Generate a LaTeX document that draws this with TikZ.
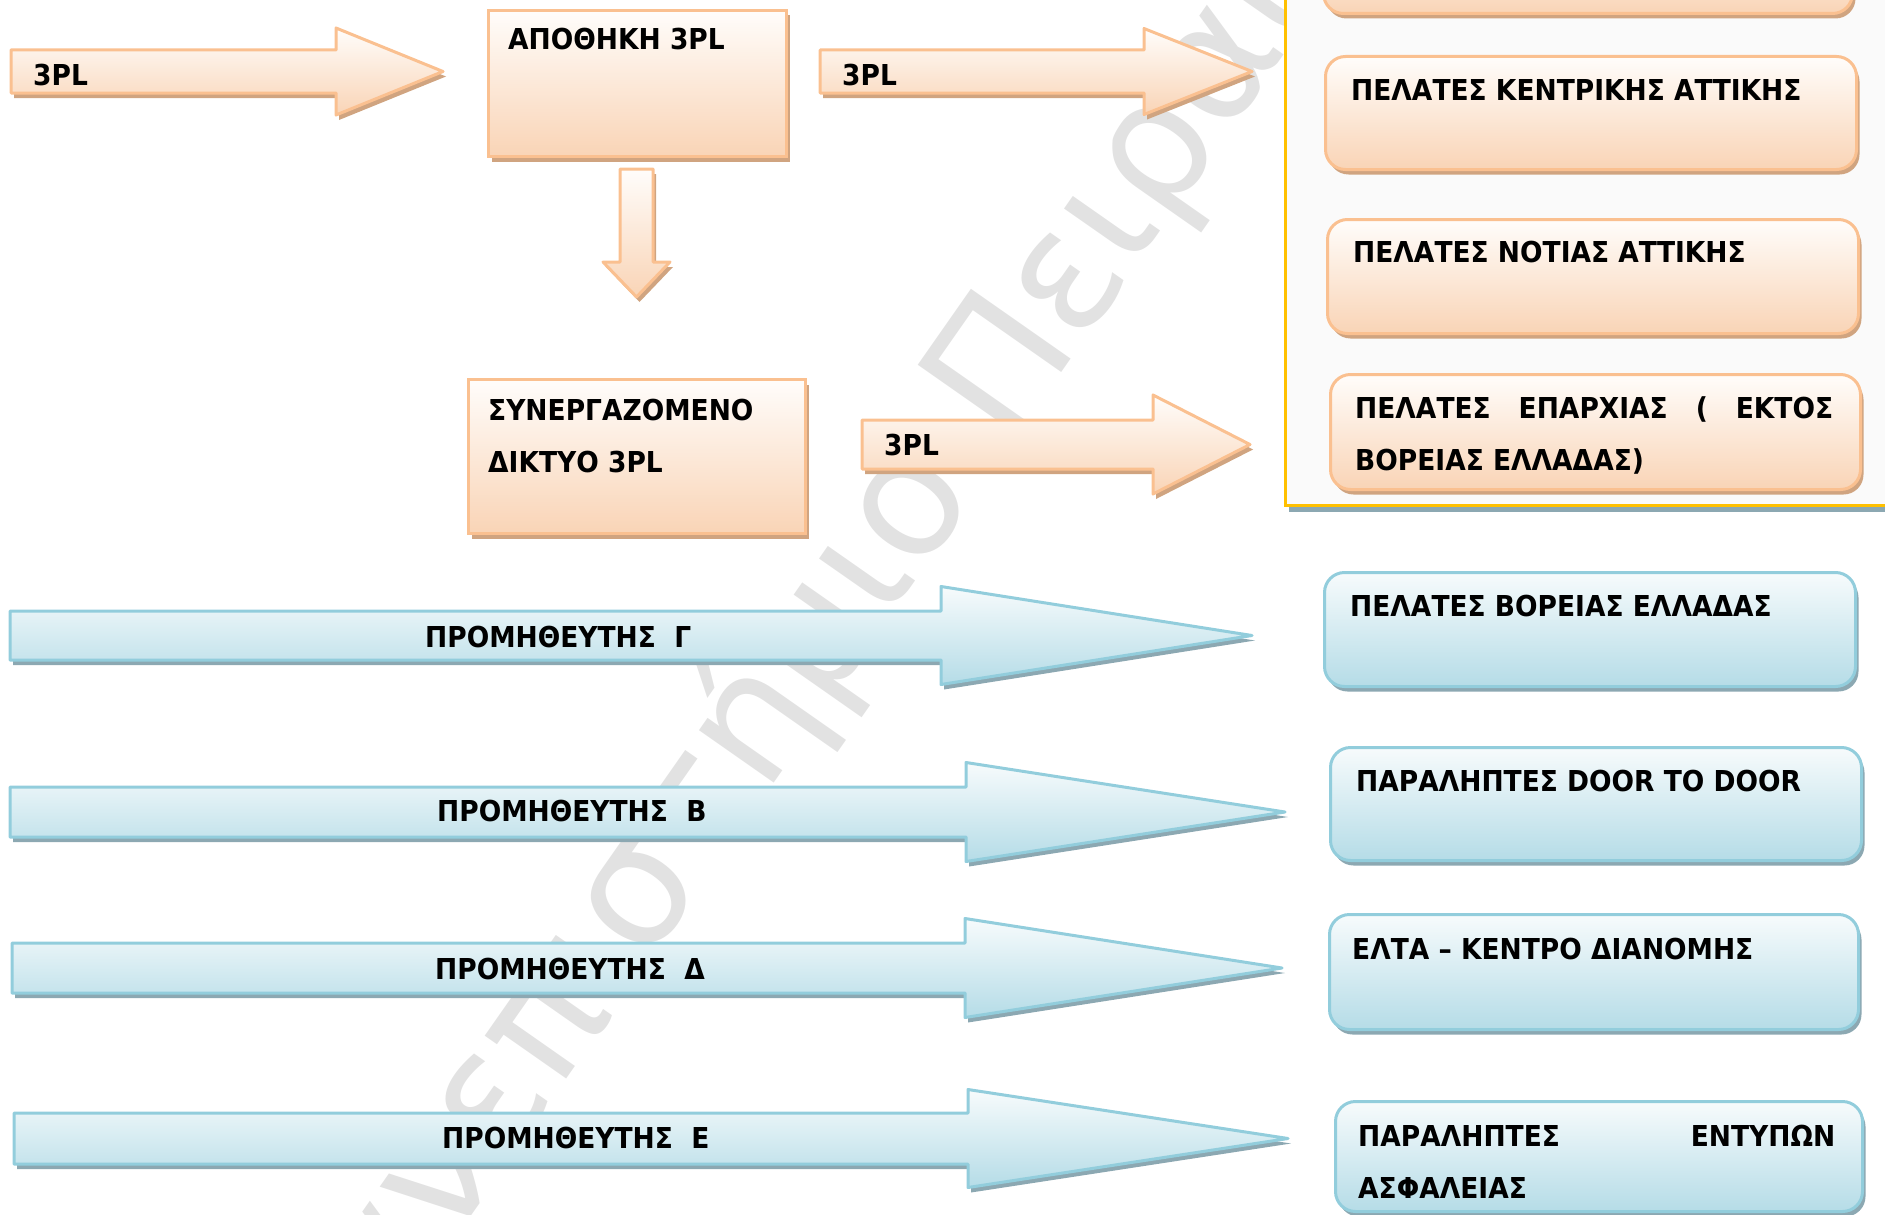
\documentclass[tikz,border=0pt]{standalone}
\usepackage{fontspec}
\setmainfont{DejaVu Sans}[FakeStretch=0.92]
\newfontfamily\wmfont{DejaVu Sans}
\usetikzlibrary{shadows,positioning}

\definecolor{peachline}{RGB}{250,192,144}
\definecolor{peachlo}{RGB}{249,212,182}
\definecolor{peachhi}{RGB}{255,253,251}
\definecolor{peachshd}{RGB}{208,164,128}
\definecolor{skyline}{RGB}{146,205,220}
\definecolor{skylo}{RGB}{181,220,231}
\definecolor{skyhi}{RGB}{247,251,252}
\definecolor{skyshd}{RGB}{140,168,178}
\definecolor{goldline}{RGB}{255,192,0}
\definecolor{panelfill}{RGB}{250,250,250}
\definecolor{wmgray}{RGB}{226,226,226}

% block arrow: style, tail x, head x, tip x, mid y, half body, half head
\newcommand{\flowarrow}[7]{%
  \draw[#1] (#2,#5-#6) -- (#3,#5-#6) -- (#3,#5-#7) -- (#4,#5)
    -- (#3,#5+#7) -- (#3,#5+#6) -- (#2,#5+#6) -- cycle;}

\begin{document}
\begin{tikzpicture}[x=1pt, y=-1pt,
  lbl/.style={font=\fontsize{28.8}{52}\selectfont\bfseries, inner sep=0pt, anchor=base west, align=left},
  obox/.style={draw=peachline, line width=3pt, top color=peachhi, bottom color=peachlo,
    general shadow={fill=peachshd, shadow xshift=3pt, shadow yshift=-5pt}},
  oround/.style={obox, rounded corners=20pt},
  bround/.style={draw=skyline, line width=3pt, top color=skyhi, bottom color=skylo,
    rounded corners=20pt, general shadow={fill=skyshd, shadow xshift=3pt, shadow yshift=-5pt}},
  oarrow/.style={obox, line join=round},
  barrow/.style={draw=skyline, line width=3pt, top color=skyhi, bottom color=skylo, line join=round,
    general shadow={fill=skyshd, shadow xshift=3pt, shadow yshift=-5pt}},
  panel/.style={draw=goldline, line width=3pt, fill=panelfill,
    general shadow={fill=skyshd, shadow xshift=3pt, shadow yshift=-6pt}}]
  \useasboundingbox (0,0) rectangle (1885,1215);
  \clip (0,0) rectangle (1885,1215);

  % watermark
  \node[font=\wmfont\fontsize{167}{167}\selectfont, text=wmgray, inner sep=0pt,
    anchor=base west, rotate=55] (wmark) at (1008,449) {\llap{Πανεπιστήμιο }Πειραιά};

  % customer panel
  \node[panel, anchor=north west, minimum width=640pt, minimum height=540pt] (zone) at (1284,-36) {};

  % 3PL chain
  \flowarrow{oarrow}{11}{336}{443}{71.5}{21.5}{43.5}
  \node[lbl] (inT) at (33,85) {3PL};
  \node[obox, anchor=north west, minimum width=298pt, minimum height=146pt] (apothiki) at (487,9) {};
  \node[lbl] (apothikiT) at (508,50) {ΑΠΟΘΗΚΗ 3PL};
  \draw[oarrow] (620,169) -- (653,169) -- (653,262) -- (670,262) -- (636.5,297)
    -- (603,262) -- (620,262) -- cycle;
  \flowarrow{oarrow}{820}{1144}{1252}{71.5}{21.5}{43}
  \node[lbl] (outT) at (842,85) {3PL};
  \node[obox, anchor=north west, minimum width=337pt, minimum height=154pt] (diktyo) at (467,378) {};
  \node[lbl] (diktyoT) at (488,472) {ΣΥΝΕΡΓΑΖΟΜΕΝΟ\\ΔΙΚΤΥΟ 3PL};
  \flowarrow{oarrow}{862}{1153}{1250}{444.5}{24.5}{49.5}
  \node[lbl] (netT) at (884,455) {3PL};

  % customers inside the panel
  \node[oround, anchor=north west, minimum width=529pt, minimum height=92pt] (top) at (1322,-80) {};
  \node[oround, anchor=north west, minimum width=531pt, minimum height=113pt] (kentro) at (1324,55) {};
  \node[lbl] (kentroT) at (1351,100) {ΠΕΛΑΤΕΣ ΚΕΝΤΡΙΚΗΣ ΑΤΤΙΚΗΣ};
  \node[oround, anchor=north west, minimum width=531pt, minimum height=114pt] (notia) at (1326,218) {};
  \node[lbl] (notiaT) at (1353,262) {ΠΕΛΑΤΕΣ ΝΟΤΙΑΣ ΑΤΤΙΚΗΣ};
  \node[oround, anchor=north west, minimum width=530pt, minimum height=115pt] (eparxia) at (1329,373) {};
  \node[lbl] (eparxiaT) at (1355,470) {\hbox to 478pt{ΠΕΛΑΤΕΣ\hfill ΕΠΑΡΧΙΑΣ\hfill (\hfill ΕΚΤΟΣ}\\ΒΟΡΕΙΑΣ ΕΛΛΑΔΑΣ)};

  % suppliers
  \flowarrow{barrow}{10}{941}{1252}{635.5}{24.5}{49}
  \node[lbl] (supG) at (425,647) {ΠΡΟΜΗΘΕΥΤΗΣ\ \ Γ};
  \flowarrow{barrow}{10}{966}{1285}{812}{25}{49.5}
  \node[lbl] (supB) at (437,821) {ΠΡΟΜΗΘΕΥΤΗΣ\ \ Β};
  \flowarrow{barrow}{12}{965}{1282}{968}{25}{49.5}
  \node[lbl] (supD) at (435,979) {ΠΡΟΜΗΘΕΥΤΗΣ\ \ Δ};
  \flowarrow{barrow}{14}{968}{1288}{1138.5}{25.5}{49}
  \node[lbl] (supE) at (442,1148) {ΠΡΟΜΗΘΕΥΤΗΣ\ \ Ε};

  % receivers
  \node[bround, anchor=north west, minimum width=531pt, minimum height=114pt] (voreia) at (1323,571) {};
  \node[lbl] (voreiaT) at (1350,616) {ΠΕΛΑΤΕΣ ΒΟΡΕΙΑΣ ΕΛΛΑΔΑΣ};
  \node[bround, anchor=north west, minimum width=531pt, minimum height=113pt] (door) at (1329,746) {};
  \node[lbl] (doorT) at (1356,791) {ΠΑΡΑΛΗΠΤΕΣ DOOR TO DOOR};
  \node[bround, anchor=north west, minimum width=529pt, minimum height=115pt] (elta) at (1328,913) {};
  \node[lbl] (eltaT) at (1352,959) {ΕΛΤΑ – ΚΕΝΤΡΟ ΔΙΑΝΟΜΗΣ};
  \node[bround, anchor=north west, minimum width=527pt, minimum height=110pt] (entypa) at (1334,1100) {};
  \node[lbl] (entypaT) at (1358,1198) {\hbox to 477pt{ΠΑΡΑΛΗΠΤΕΣ\hfill ΕΝΤΥΠΩΝ}\\ΑΣΦΑΛΕΙΑΣ};
\end{tikzpicture}
\end{document}
